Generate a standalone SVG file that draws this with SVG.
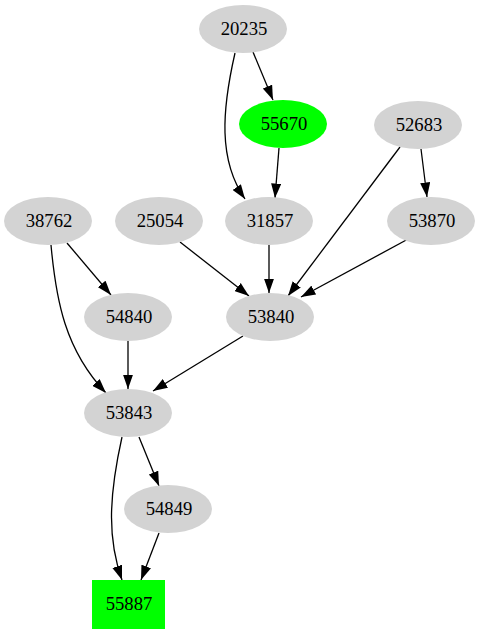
<svg xmlns="http://www.w3.org/2000/svg" width="479" height="635" viewBox="0 0 479 635">
<style>
.n ellipse{fill:#d3d3d3;stroke:none}
.g ellipse,.g rect{fill:#00ff00;stroke:none}
text{font-family:"Liberation Serif","Times New Roman",serif;font-size:18.7px;fill:#000;text-anchor:middle}
.e path{fill:none;stroke:#000;stroke-width:1.3}
</style>
<defs>
<marker id="a" viewBox="0 0 10 7" refX="10" refY="3.5" markerWidth="14.5" markerHeight="10.5" markerUnits="userSpaceOnUse" orient="auto">
<path d="M0,0 L10,3.5 L0,7 z" fill="#000"/>
</marker>
</defs>
<rect width="479" height="635" fill="#fff"/>
<g class="e">
<path d="M253,52 L273,100" marker-end="url(#a)"/>
<path d="M235,53 C222,110 218,160 245,199" marker-end="url(#a)"/>
<path d="M279,148 L275,198" marker-end="url(#a)"/>
<path d="M400,147 L288,296" marker-end="url(#a)"/>
<path d="M421,149 L427,197" marker-end="url(#a)"/>
<path d="M67,243 L111,295" marker-end="url(#a)"/>
<path d="M51,245 C56,300 65,350 106,393" marker-end="url(#a)"/>
<path d="M180,242 L249,296" marker-end="url(#a)"/>
<path d="M269,245 L269,293" marker-end="url(#a)"/>
<path d="M410,238 L301,297" marker-end="url(#a)"/>
<path d="M128,341 L128,389" marker-end="url(#a)"/>
<path d="M243,336 L153,391" marker-end="url(#a)"/>
<path d="M122,437 C108,500 108,540 122,580" marker-end="url(#a)"/>
<path d="M139,437 L159,486" marker-end="url(#a)"/>
<path d="M159,533 L141,580" marker-end="url(#a)"/>
</g>
<g id="n20235" class="n"><ellipse cx="243" cy="29" rx="44" ry="24"/><text x="244" y="35">20235</text></g>
<g id="n55670" class="g"><ellipse cx="283" cy="124" rx="44" ry="24"/><text x="284" y="130">55670</text></g>
<g id="n52683" class="n"><ellipse cx="418" cy="125" rx="44" ry="24"/><text x="419" y="131">52683</text></g>
<g id="n38762" class="n"><ellipse cx="48" cy="221" rx="44" ry="24"/><text x="49" y="227">38762</text></g>
<g id="n25054" class="n"><ellipse cx="159" cy="221" rx="44" ry="24"/><text x="160" y="227">25054</text></g>
<g id="n31857" class="n"><ellipse cx="269" cy="221" rx="44" ry="24"/><text x="270" y="227">31857</text></g>
<g id="n53870" class="n"><ellipse cx="431" cy="221" rx="44" ry="24"/><text x="432" y="227">53870</text></g>
<g id="n54840" class="n"><ellipse cx="128" cy="317" rx="44" ry="24"/><text x="129" y="323">54840</text></g>
<g id="n53840" class="n"><ellipse cx="270" cy="317" rx="44" ry="24"/><text x="271" y="323">53840</text></g>
<g id="n53843" class="n"><ellipse cx="128" cy="413" rx="44" ry="24"/><text x="129" y="419">53843</text></g>
<g id="n54849" class="n"><ellipse cx="168" cy="509" rx="44" ry="24"/><text x="169" y="515">54849</text></g>
<g id="n55887" class="g"><rect x="92" y="580" width="73" height="49"/><text x="129" y="610">55887</text></g>
</svg>
